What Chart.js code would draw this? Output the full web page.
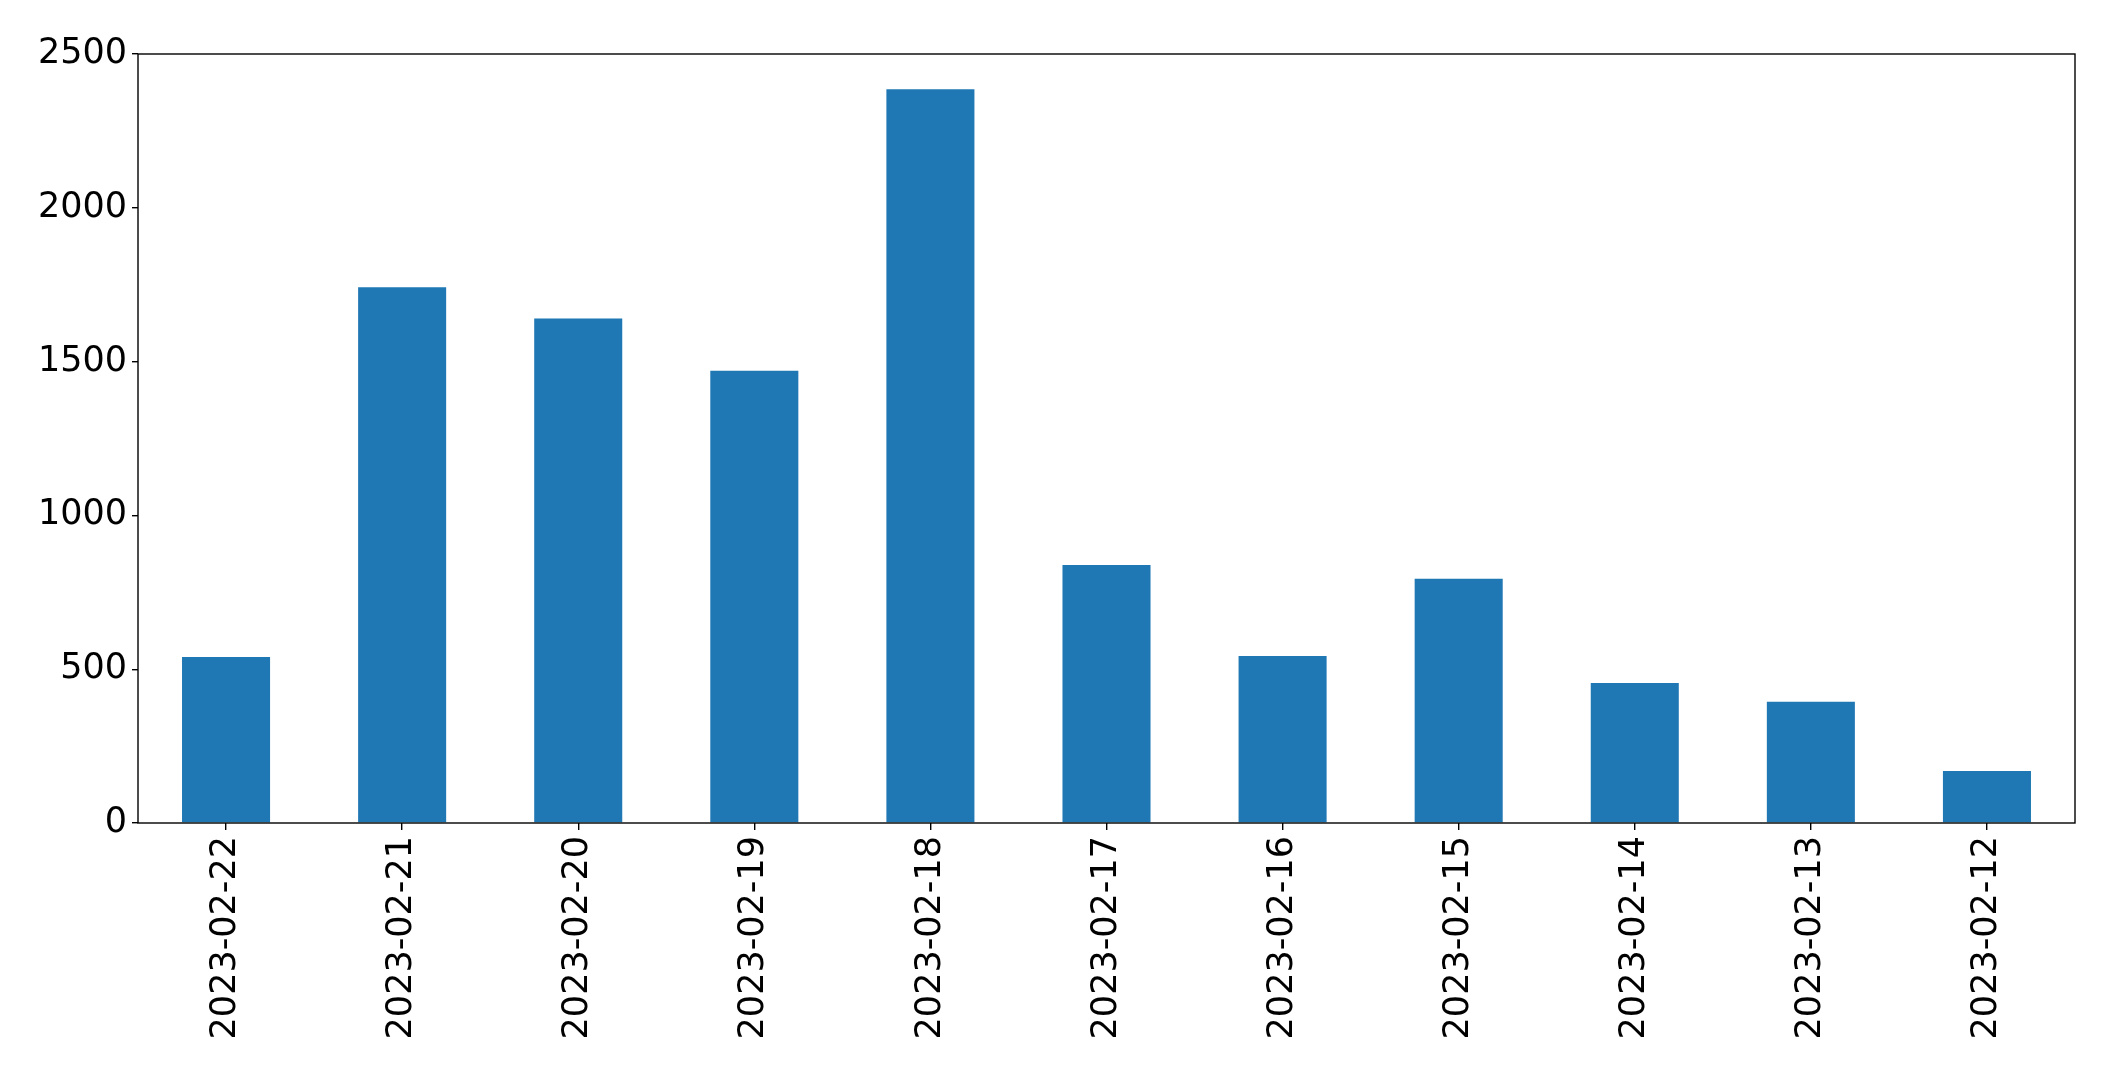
<!DOCTYPE html>
<html>
<head>
<meta charset="utf-8">
<script src="https://cdn.jsdelivr.net/npm/chart.js@4/dist/chart.umd.min.js"></script>
<style>
  html, body { margin: 0; padding: 0; background: #fff; }
  #wrap { width: 2115px; height: 1075px; }
</style>
</head>
<body>
<div id="wrap"><canvas id="grafico" width="2115" height="1075"></canvas></div>
<script>
// daily counts, newest first (as in the original plot)
const fechas = ["2023-02-22", "2023-02-21", "2023-02-20", "2023-02-19", "2023-02-18", "2023-02-17",
                "2023-02-16", "2023-02-15", "2023-02-14", "2023-02-13", "2023-02-12"];
const conteos = [540, 1742, 1640, 1470, 2385, 839, 543, 794, 455, 394, 169];
const ticksY = [0, 500, 1000, 1500, 2000, 2500];

const fuente = { family: "DejaVu Sans", size: 35 };

// matplotlib-style box around the plot area
const marco = {
  id: "marco",
  afterDatasetsDraw(chart) {
    const a = chart.chartArea;
    const ctx = chart.ctx;
    ctx.save();
    ctx.strokeStyle = "#000";
    ctx.lineWidth = 1.4;
    ctx.strokeRect(a.left, a.top, a.right - a.left, a.bottom - a.top);
    ctx.restore();
  }
};

new Chart(document.getElementById("grafico").getContext("2d"), {
  type: "bar",
  data: {
    labels: fechas,
    datasets: [{ data: conteos, backgroundColor: "#1f77b4", categoryPercentage: 1.0, barPercentage: 0.5 }]
  },
  options: {
    responsive: false,
    animation: false,
    layout: { padding: { top: 54, right: 40, left: 0, bottom: 0 } },
    plugins: { legend: { display: false }, tooltip: { enabled: false } },
    scales: {
      x: {
        grid: { offset: false, drawOnChartArea: false, drawTicks: true, tickLength: 7, color: "#000", lineWidth: 1.4 },
        border: { display: false },
        ticks: { color: "#000", font: fuente, minRotation: 90, maxRotation: 90, padding: 6, autoSkip: false },
        afterFit(s) { s.height = 252; }
      },
      y: {
        min: 0,
        max: 2500,
        afterBuildTicks(s) { s.ticks = ticksY.map(v => ({ value: v })); },
        grid: { drawOnChartArea: false, drawTicks: true, tickLength: 6, color: "#000", lineWidth: 1.4 },
        border: { display: false },
        ticks: { color: "#000", font: fuente, padding: 5, callback: v => String(v) },
        afterFit(s) { s.width = 138; }
      }
    }
  },
  plugins: [marco]
});
</script>
</body>
</html>
